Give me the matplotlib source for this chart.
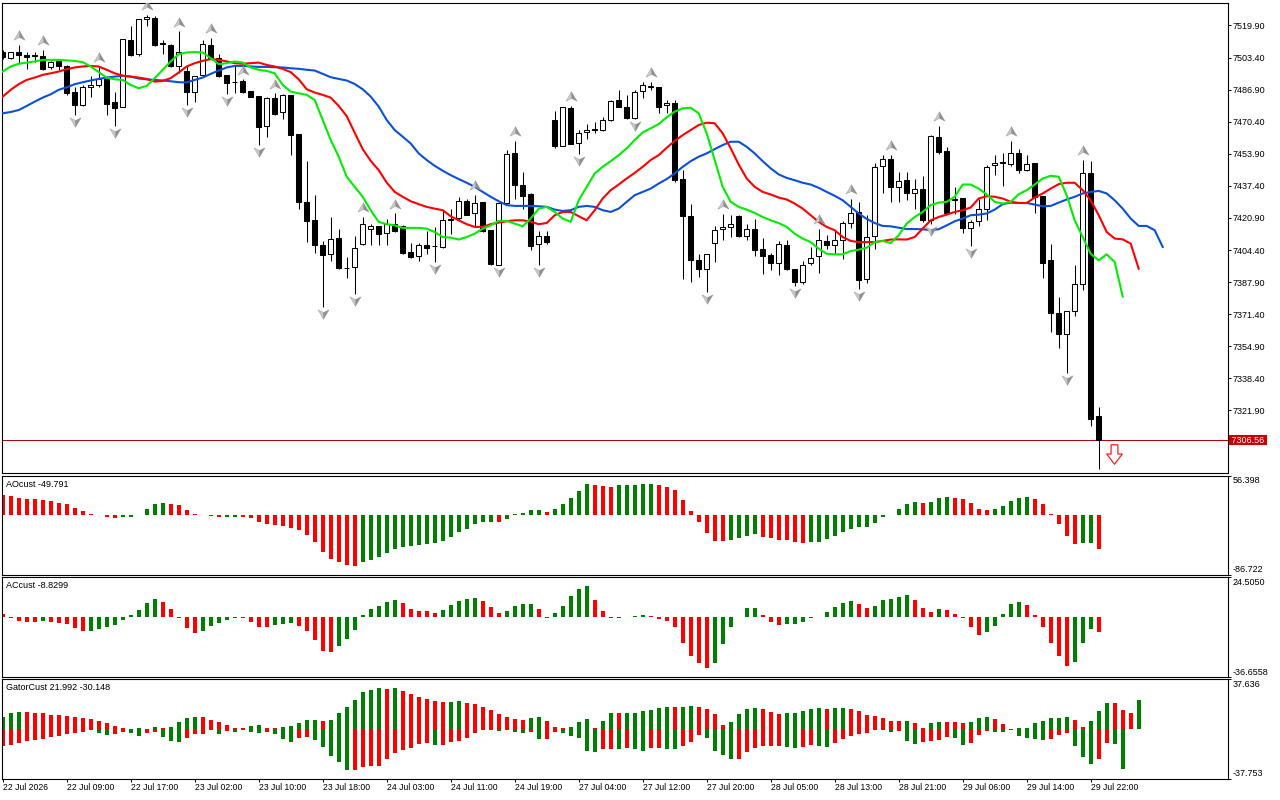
import numpy as np
import matplotlib
matplotlib.use("Agg")
import matplotlib.pyplot as plt
from matplotlib.path import Path
from matplotlib.transforms import offset_copy, blended_transform_factory

plt.rcParams['font.family'] = ['Liberation Sans', 'DejaVu Sans']

# ---- hourly candles, 22 Jul 01:00 .. 29 Jul 23:00 ----
opens = [7506.5, 7503.1, 7506.0, 7504.8, 7504.3, 7504.3, 7498.3, 7501.4, 7499.1, 7485.7,
         7479.0, 7488.1, 7489.3, 7492.4, 7480.4, 7478.1, 7512.5, 7505.1, 7523.2, 7523.7,
         7510.5, 7510.0, 7499.3, 7496.5, 7485.9, 7494.3, 7510.0, 7503.1, 7494.5, 7490.7,
         7491.4, 7486.2, 7483.6, 7468.4, 7482.4, 7475.2, 7484.0, 7464.1, 7429.3, 7420.1,
         7407.2, 7402.5, 7410.8, 7395.2, 7395.7, 7407.3, 7415.4, 7416.8, 7413.3, 7418.0,
         7416.8, 7403.4, 7401.3, 7407.2, 7406.5, 7406.0, 7419.7, 7420.9, 7429.8, 7423.2,
         7429.3, 7414.6, 7396.9, 7428.8, 7454.1, 7438.1, 7433.0, 7407.3, 7411.8, 7471.1,
         7458.0, 7477.3, 7459.2, 7464.9, 7466.1, 7466.3, 7471.1, 7481.6, 7478.1, 7472.2,
         7486.1, 7488.4, 7488.1, 7478.8, 7479.9, 7440.7, 7422.1, 7399.4, 7394.8, 7408.2,
         7415.4, 7416.3, 7422.1, 7411.8, 7415.4, 7405.1, 7402.0, 7397.9, 7407.2, 7394.4,
         7387.9, 7397.7, 7401.2, 7408.9, 7407.2, 7409.4, 7418.3, 7423.8, 7389.6, 7411.6,
         7447.6, 7451.0, 7436.9, 7440.3, 7433.5, 7436.0, 7420.0, 7462.7, 7455.3, 7430.0,
         7431.4, 7415.8, 7419.4, 7425.7, 7448.1, 7449.3, 7448.9, 7454.1, 7445.8, 7449.3,
         7432.1, 7399.1, 7372.1, 7361.3, 7373.0, 7387.0, 7443.8, 7319.2]
highs = [7507.4, 7506.5, 7510.0, 7506.2, 7506.2, 7507.4, 7501.7, 7502.2, 7499.6, 7488.5,
         7489.3, 7494.0, 7498.8, 7494.0, 7485.9, 7512.9, 7519.4, 7523.4, 7525.4, 7525.0,
         7512.5, 7510.3, 7516.8, 7498.8, 7494.0, 7512.5, 7513.4, 7505.1, 7494.5, 7499.6,
         7492.2, 7486.2, 7483.6, 7483.0, 7485.0, 7484.5, 7484.2, 7464.1, 7450.1, 7432.9,
         7409.1, 7421.3, 7415.4, 7400.8, 7411.5, 7421.4, 7417.6, 7416.8, 7420.6, 7423.2,
         7417.2, 7408.0, 7408.0, 7414.0, 7416.3, 7424.9, 7425.7, 7431.7, 7430.4, 7432.6,
         7429.3, 7414.9, 7429.2, 7455.8, 7460.4, 7444.5, 7433.5, 7414.0, 7414.0, 7475.9,
         7478.1, 7478.5, 7466.1, 7469.2, 7470.4, 7473.0, 7481.6, 7486.7, 7484.1, 7486.7,
         7491.0, 7491.0, 7488.1, 7481.6, 7481.6, 7445.8, 7428.3, 7402.5, 7402.6, 7416.8,
         7423.1, 7422.3, 7422.3, 7418.0, 7420.6, 7410.8, 7403.0, 7409.1, 7409.7, 7394.6,
         7398.7, 7405.9, 7415.4, 7412.0, 7414.9, 7419.4, 7430.9, 7429.3, 7422.6, 7449.3,
         7453.1, 7453.2, 7444.5, 7444.6, 7441.0, 7442.4, 7463.5, 7468.2, 7457.5, 7436.9,
         7431.4, 7419.7, 7430.9, 7448.1, 7453.1, 7454.1, 7460.4, 7456.5, 7453.2, 7449.3,
         7432.1, 7407.3, 7380.5, 7372.8, 7396.9, 7450.6, 7450.1, 7323.8]
lows = [7502.6, 7502.7, 7500.5, 7497.4, 7501.3, 7497.1, 7497.4, 7497.1, 7484.2, 7473.9,
        7478.5, 7483.0, 7488.5, 7473.9, 7468.2, 7477.8, 7504.3, 7504.3, 7519.7, 7509.1,
        7505.1, 7498.7, 7495.3, 7479.0, 7480.7, 7494.0, 7503.1, 7493.6, 7484.5, 7485.0,
        7485.4, 7483.0, 7458.4, 7462.3, 7473.9, 7471.8, 7453.2, 7425.4, 7408.5, 7403.0,
        7375.0, 7398.7, 7394.8, 7390.1, 7381.6, 7406.8, 7407.1, 7406.8, 7406.8, 7413.7,
        7402.6, 7400.5, 7398.7, 7402.5, 7398.2, 7405.6, 7412.8, 7420.1, 7422.3, 7416.3,
        7413.7, 7396.5, 7396.5, 7428.3, 7430.5, 7425.7, 7404.2, 7396.5, 7407.7, 7457.0,
        7457.9, 7458.7, 7453.6, 7461.3, 7464.4, 7465.6, 7470.8, 7477.8, 7471.8, 7471.8,
        7482.8, 7486.7, 7474.7, 7474.7, 7439.5, 7389.6, 7387.9, 7390.5, 7382.8, 7398.2,
        7409.4, 7411.1, 7411.1, 7409.4, 7401.2, 7392.2, 7394.3, 7391.7, 7393.9, 7385.7,
        7387.0, 7396.9, 7392.6, 7405.1, 7402.2, 7399.9, 7415.8, 7384.3, 7387.4, 7404.8,
        7433.8, 7429.3, 7429.3, 7430.0, 7425.7, 7418.9, 7417.6, 7453.7, 7423.1, 7423.1,
        7413.3, 7406.5, 7416.8, 7419.7, 7442.9, 7437.4, 7447.7, 7444.1, 7445.1, 7423.6,
        7390.0, 7362.1, 7354.1, 7341.2, 7370.7, 7384.0, 7314.0, 7292.0]
closes = [7503.6, 7506.2, 7504.6, 7503.6, 7504.2, 7497.6, 7501.2, 7499.1, 7485.4, 7478.8,
          7488.1, 7489.1, 7492.4, 7479.7, 7477.3, 7512.9, 7504.6, 7523.4, 7524.2, 7510.0,
          7510.4, 7498.8, 7506.5, 7485.9, 7493.8, 7510.3, 7503.4, 7494.1, 7490.2, 7490.8,
          7485.9, 7483.3, 7467.8, 7482.4, 7474.5, 7484.0, 7463.7, 7429.2, 7419.4, 7406.8,
          7401.7, 7410.3, 7395.3, 7395.0, 7405.6, 7418.0, 7416.8, 7412.8, 7418.0, 7414.2,
          7403.0, 7400.8, 7407.2, 7405.4, 7406.4, 7420.1, 7420.6, 7429.8, 7422.6, 7428.8,
          7414.2, 7397.4, 7428.8, 7453.6, 7437.6, 7432.3, 7406.5, 7411.8, 7408.5, 7458.0,
          7477.8, 7458.9, 7464.4, 7466.0, 7466.2, 7471.1, 7481.1, 7478.1, 7472.2, 7485.5,
          7489.1, 7488.5, 7478.1, 7479.9, 7440.3, 7421.9, 7399.4, 7394.8, 7402.5, 7414.9,
          7416.1, 7418.0, 7411.6, 7415.4, 7404.6, 7401.2, 7397.7, 7407.7, 7394.4, 7387.9,
          7396.9, 7400.5, 7409.4, 7407.2, 7409.7, 7418.3, 7423.6, 7389.1, 7411.1, 7446.9,
          7451.0, 7436.9, 7439.8, 7433.8, 7435.7, 7419.7, 7463.0, 7455.0, 7423.6, 7430.5,
          7415.8, 7419.0, 7425.7, 7446.9, 7449.4, 7449.2, 7454.1, 7445.8, 7448.9, 7431.7,
          7397.7, 7371.9, 7361.3, 7372.8, 7387.0, 7443.8, 7317.4, 7306.56]

# alligator lines (already shifted forward: jaw +8, teeth +5, lips +3)
jaw = [7474.7, 7475.4, 7476.4, 7478.5, 7480.7, 7482.8, 7484.5, 7486.8, 7488.1, 7489.7,
       7490.7, 7491.6, 7492.4, 7493.1, 7493.6, 7494.0, 7493.6, 7492.6, 7492.2, 7491.9,
       7491.6, 7491.2, 7490.7, 7490.6, 7491.9, 7493.1, 7495.0, 7496.7, 7498.3, 7499.1,
       7499.1, 7498.8, 7498.6, 7498.6, 7498.4, 7498.3, 7497.9, 7497.6, 7497.1, 7496.7,
       7495.0, 7493.3, 7492.4, 7491.6, 7489.8, 7487.1, 7483.3, 7478.2, 7471.3, 7466.1,
       7462.7, 7459.2, 7454.1, 7450.7, 7447.7, 7445.2, 7442.9, 7440.9, 7439.0, 7436.9,
       7434.3, 7431.8, 7429.5, 7427.5, 7427.1, 7427.1, 7427.1, 7426.9, 7426.6, 7425.2,
       7424.5, 7424.9, 7426.6, 7427.1, 7426.6, 7424.9, 7424.0, 7425.7, 7429.2, 7432.6,
       7434.3, 7436.0, 7438.6, 7440.9, 7443.8, 7447.2, 7450.1, 7452.4, 7454.1, 7456.3,
       7458.4, 7460.1, 7460.1, 7457.5, 7454.1, 7450.1, 7446.4, 7443.3, 7441.5, 7440.3,
       7439.0, 7438.1, 7436.4, 7434.3, 7432.3, 7430.0, 7426.6, 7423.2, 7420.4, 7418.3,
       7416.8, 7416.6, 7415.9, 7415.2, 7415.2, 7415.1, 7414.6, 7415.1, 7417.1, 7419.2,
       7420.6, 7422.3, 7422.6, 7423.2, 7425.2, 7428.0, 7428.8, 7428.6, 7428.6, 7427.8,
       7426.9, 7427.1, 7428.8, 7430.4, 7431.8, 7433.5, 7434.3, 7434.8, 7433.5, 7430.0,
       7425.7, 7420.6, 7416.8, 7416.8, 7414.6, 7406.0]
teeth = [7483.3, 7486.8, 7489.7, 7491.9, 7493.1, 7494.5, 7495.3, 7496.2, 7497.4, 7498.3,
         7498.8, 7499.1, 7498.8, 7497.1, 7495.3, 7494.1, 7493.6, 7493.1, 7492.4, 7491.0,
         7491.4, 7492.8, 7495.7, 7498.8, 7500.5, 7501.7, 7502.6, 7502.2, 7501.4, 7500.5,
         7500.2, 7500.5, 7500.8, 7499.6, 7498.8, 7497.6, 7495.9, 7492.2, 7487.1, 7485.4,
         7484.2, 7482.8, 7478.5, 7473.3, 7464.7, 7456.3, 7450.3, 7445.5, 7439.1, 7434.3,
         7431.8, 7429.5, 7428.0, 7426.6, 7425.7, 7424.9, 7421.8, 7419.7, 7417.7, 7416.3,
         7416.3, 7417.7, 7418.5, 7419.2, 7419.7, 7419.7, 7419.0, 7417.7, 7418.3, 7422.3,
         7424.0, 7424.0, 7421.8, 7419.7, 7424.9, 7430.9, 7435.2, 7438.1, 7441.2, 7444.1,
         7447.2, 7450.7, 7453.2, 7457.0, 7460.5, 7463.5, 7466.1, 7468.7, 7469.9, 7469.6,
         7464.4, 7456.7, 7448.4, 7441.2, 7436.9, 7434.3, 7433.0, 7431.4, 7430.4, 7428.3,
         7425.7, 7422.3, 7418.9, 7416.3, 7414.6, 7411.1, 7409.1, 7408.5, 7408.5, 7408.5,
         7409.1, 7409.8, 7409.9, 7409.8, 7411.1, 7415.4, 7419.7, 7421.4, 7422.6, 7424.0,
         7424.9, 7426.3, 7430.9, 7432.1, 7431.8, 7430.9, 7429.2, 7428.6, 7428.6, 7431.4,
         7433.5, 7436.0, 7438.3, 7439.0, 7439.0, 7435.2, 7430.0, 7422.3, 7413.7, 7410.3,
         7409.9, 7407.7, 7394.8]
lips = [7496.2, 7498.8, 7500.2, 7500.8, 7501.4, 7502.2, 7502.2, 7502.2, 7501.9, 7501.7,
        7501.0, 7498.8, 7495.9, 7493.1, 7492.2, 7491.9, 7489.3, 7487.6, 7488.8, 7492.8,
        7497.1, 7501.4, 7505.1, 7506.0, 7506.2, 7506.0, 7503.1, 7500.0, 7500.5, 7501.4,
        7500.8, 7498.3, 7497.1, 7496.5, 7495.3, 7489.3, 7485.9, 7485.0, 7484.2, 7481.6,
        7471.3, 7461.0, 7452.4, 7442.1, 7436.9, 7431.8, 7424.9, 7418.9, 7417.7, 7417.1,
        7415.8, 7415.8, 7415.8, 7415.4, 7413.7, 7411.1, 7410.8, 7409.8, 7411.1, 7412.8,
        7415.4, 7417.1, 7419.4, 7419.4, 7418.0, 7416.6, 7420.6, 7425.7, 7426.6, 7424.0,
        7420.6, 7418.9, 7430.0, 7436.9, 7443.8, 7447.2, 7450.1, 7453.2, 7456.7, 7461.0,
        7464.9, 7467.0, 7469.2, 7472.7, 7475.6, 7477.3, 7477.6, 7474.7, 7464.4, 7450.7,
        7436.9, 7429.2, 7426.6, 7425.2, 7423.5, 7421.4, 7419.7, 7418.3, 7416.3, 7412.8,
        7410.3, 7408.5, 7405.1, 7402.5, 7402.2, 7402.2, 7403.9, 7404.6, 7405.6, 7408.5,
        7409.1, 7408.0, 7412.0, 7418.0, 7421.4, 7424.0, 7427.5, 7428.8, 7429.2, 7431.8,
        7438.1, 7438.1, 7436.0, 7433.0, 7429.2, 7428.3, 7429.2, 7433.1, 7435.2, 7438.1,
        7441.2, 7442.6, 7442.1, 7432.6, 7419.7, 7411.1, 7402.5, 7399.1, 7402.2, 7398.2,
        7380.5]

# bar indices of fractal arrows
fractal_up = [2, 5, 12, 18, 22, 26, 30, 34, 45, 49, 59, 64, 71, 81, 90, 102, 106, 111, 117, 126, 135]
fractal_dn = [9, 14, 23, 28, 32, 40, 44, 54, 62, 67, 72, 79, 88, 99, 107, 116, 121, 133]

# oscillators
ao = [28.0, 26.5, 24.1, 22.7, 22.5, 21.2, 20.2, 17.4, 14.9, 9.6,
      4.8, 1.4, 0.3, -3.9, -4.8, -3.4, -3.0, -0.8, 8.2, 14.9,
      16.4, 16.0, 13.5, 6.3, 0.5, 0.2, -2.0, -3.9, -2.9, -2.8,
      -3.9, -4.8, -10.6, -14.0, -15.0, -16.9, -19.8, -22.2, -29.9, -39.5,
      -54.0, -63.6, -69.0, -72.8, -74.2, -68.4, -66.0, -61.2, -55.9, -49.6,
      -46.7, -45.3, -44.3, -42.9, -41.0, -38.0, -32.3, -24.6, -20.2, -14.0,
      -10.1, -10.0, -10.6, -6.3, 0.8, 2.9, 6.3, 6.4, 3.4, 8.2,
      14.9, 24.6, 34.2, 43.9, 42.4, 41.4, 40.0, 42.4, 42.5, 42.6,
      43.9, 44.0, 42.4, 40.0, 35.7, 21.2, 4.8, -10.6, -27.0, -38.0,
      -38.3, -36.6, -33.3, -30.4, -28.4, -31.8, -34.2, -36.6, -36.8, -39.5,
      -41.4, -39.5, -39.4, -35.2, -31.3, -25.1, -20.7, -17.8, -17.4, -12.0,
      -3.4, -1.0, 8.2, 14.9, 17.8, 17.6, 17.9, 24.6, 25.1, 23.6,
      22.2, 16.4, 7.7, 6.3, 7.7, 12.0, 19.3, 23.6, 25.1, 22.7,
      14.9, 1.0, -14.0, -31.3, -42.9, -41.4, -41.3, -49.791]
ac = [1.8, -0.4, -2.4, -2.8, -2.9, -2.4, -2.9, -3.5, -4.3, -6.5,
      -8.2, -8.1, -7.1, -5.7, -4.5, -1.6, 1.2, 4.3, 8.6, 11.0,
      9.2, 4.9, -0.3, -6.5, -9.6, -8.4, -5.3, -3.5, -1.6, -0.2,
      -0.4, -2.9, -5.9, -6.0, -4.5, -3.9, -3.5, -5.3, -8.4, -13.9,
      -20.6, -21.2, -17.5, -13.0, -7.7, 1.4, 5.1, 6.9, 9.4, 10.6,
      8.8, 5.1, 4.1, 4.0, 2.9, 4.5, 7.5, 10.2, 11.0, 11.8,
      10.0, 6.3, 2.7, 3.9, 6.9, 8.2, 8.3, 5.1, -0.2, 2.7,
      6.7, 13.0, 17.1, 19.2, 10.6, 4.1, -0.3, -0.2, 0.3, 0.9,
      1.6, 1.0, -0.8, -2.2, -5.9, -15.7, -23.7, -27.9, -31.0, -27.9,
      -16.3, -5.9, 0.4, 5.7, 5.8, 1.2, -2.7, -4.5, -3.9, -3.8,
      -2.7, -0.4, 0.2, 3.5, 6.3, 8.8, 10.0, 8.4, 5.7, 6.9,
      10.6, 11.2, 12.4, 13.7, 10.6, 5.7, 3.5, 5.1, 4.5, 2.2,
      -0.2, -5.7, -10.6, -8.8, -5.3, 2.0, 8.2, 9.4, 7.5, 1.4,
      -5.9, -15.5, -23.4, -29.6, -27.1, -15.5, -6.9, -8.8299]
gator_up = [8.9, 11.7, 12.9, 12.8, 12.4, 11.7, 10.9, 10.8, 9.6, 9.1,
            8.6, 7.6, 6.1, 4.8, 2.3, 1.0, 0.1, 0.8, 0.0, 1.5,
            0.8, 1.6, 5.3, 8.4, 9.1, 9.0, 6.8, 5.3, 3.3, 0.8,
            0.7, 2.3, 3.0, 0.8, 0.7, 1.5, 2.3, 4.6, 6.8, 6.9,
            6.1, 6.9, 11.7, 17.0, 22.0, 28.1, 29.6, 31.2, 30.4, 31.2,
            28.9, 26.6, 24.3, 22.8, 21.3, 20.5, 20.6, 21.3, 19.8, 19.0,
            16.7, 14.4, 11.4, 9.1, 7.6, 6.8, 8.4, 9.1, 6.1, 1.5,
            0.8, 1.5, 5.3, 7.6, 0.8, 6.1, 12.2, 12.1, 12.2, 12.3,
            13.7, 14.4, 16.0, 16.7, 16.6, 16.8, 17.5, 16.7, 15.2, 11.4,
            3.0, 5.3, 11.4, 15.2, 16.0, 15.2, 12.9, 11.4, 12.2, 12.3,
            13.7, 15.2, 16.0, 15.2, 16.0, 16.1, 15.2, 13.7, 10.6, 9.9,
            8.4, 6.1, 6.0, 6.1, 4.6, 0.8, 4.6, 5.3, 5.2, 5.1,
            4.6, 5.3, 8.4, 9.1, 7.6, 3.8, 0.0, 0.7, 0.8, 4.6,
            6.1, 8.4, 8.5, 9.1, 6.8, 1.5, 6.1, 13.7, 19.8, 19.7,
            14.4, 12.2, 21.992]
gator_dn = [12.7, 12.2, 10.4, 9.1, 8.4, 7.6, 5.8, 5.1, 4.1, 3.3,
            2.5, 0.8, 2.8, 4.3, 3.5, 2.3, 2.8, 5.1, 2.8, 2.3,
            5.8, 9.1, 9.6, 6.6, 3.8, 3.5, 0.8, 3.5, 1.5, 2.0,
            0.8, 2.3, 2.8, 2.7, 3.5, 7.3, 9.6, 6.8, 5.8, 8.4,
            13.4, 20.3, 24.8, 31.2, 31.1, 28.6, 28.5, 27.9, 22.5, 18.0,
            16.0, 14.2, 11.4, 10.6, 12.2, 12.1, 9.9, 9.1, 6.8, 3.0,
            0.8, 0.9, 1.5, 0.8, 2.3, 3.0, 2.3, 7.6, 7.5, 2.3,
            3.0, 5.3, 6.8, 16.7, 17.5, 15.2, 15.1, 15.2, 14.4, 15.2,
            16.7, 14.4, 14.3, 15.2, 15.3, 12.9, 9.9, 4.6, 6.8, 16.7,
            19.8, 22.8, 22.7, 17.5, 14.4, 13.2, 12.9, 12.6, 13.7, 14.4,
            13.7, 12.2, 12.9, 13.7, 10.6, 7.6, 5.3, 3.8, 3.0, 0.8,
            0.7, 2.3, 1.5, 9.1, 11.4, 9.9, 9.1, 8.4, 6.1, 6.8,
            12.2, 10.6, 4.6, 1.5, 2.3, 2.4, 0.7, 5.3, 6.8, 7.6,
            8.4, 7.6, 4.6, 3.0, 12.9, 21.3, 26.6, 22.8, 10.6, 11.4,
            30.148]

price_ticks = [7519.90, 7503.40, 7486.90, 7470.40, 7453.90, 7437.40, 7420.90,
               7404.40, 7387.90, 7371.40, 7354.90, 7338.40, 7321.90]
price_range = (7289.9, 7531.6)
ao_range = (-86.722, 56.398)
ac_range = (-36.6558, 24.5050)
gator_range = (-37.753, 37.636)
time_labels = ["22 Jul 2026", "22 Jul 09:00", "22 Jul 17:00", "23 Jul 02:00", "23 Jul 10:00",
               "23 Jul 18:00", "24 Jul 03:00", "24 Jul 11:00", "24 Jul 19:00", "27 Jul 04:00",
               "27 Jul 12:00", "27 Jul 20:00", "28 Jul 05:00", "28 Jul 13:00", "28 Jul 21:00",
               "29 Jul 06:00", "29 Jul 14:00", "29 Jul 22:00"]

GREEN, RED = '#008000', '#ff0000'
FS = 6.5

W, H = 1280, 800
LEFT, RIGHT = 1.7, 1227.7
fig = plt.figure(figsize=(12.8, 8), dpi=100)
fig.patch.set_facecolor('white')


def panel(top, bottom):
    ax = fig.add_axes([LEFT / W, 1 - bottom / H, (RIGHT - LEFT) / W, (bottom - top) / H])
    ax.set_xlim(-0.125, 153.125)
    ax.set_xticks([])
    ax.yaxis.tick_right()
    ax.tick_params(axis='y', direction='out', length=1.8, width=0.7, pad=1.8, labelsize=FS)
    for s in ax.spines.values():
        s.set_linewidth(0.8)
    return ax


ax = panel(2.7, 472.7)
ax_ao = panel(475.7, 574.7)
ax_ac = panel(577.3, 677.3)
ax_g = panel(679.3, 778.7)

# ---- candles ----
o, h, l, c = (np.array(v) for v in (opens, highs, lows, closes))
idx = np.arange(len(c))
bull = c >= o
ax.vlines(idx, l, h, color='black', lw=0.75, zorder=2)
ax.bar(idx, np.maximum(np.abs(c - o), 0.3), bottom=np.minimum(o, c), width=0.56,
       color=np.where(bull, 'white', 'black'), edgecolor='black', lw=0.75, zorder=3)

# ---- alligator ----
ax.plot(np.arange(len(jaw)), jaw, color='#0a50dc', lw=1.5, zorder=4)
ax.plot(np.arange(len(teeth)), teeth, color='#ff0000', lw=1.5, zorder=4)
ax.plot(np.arange(len(lips)), lips, color='#00ee00', lw=1.5, zorder=4)

# ---- fractals (two-tone arrowheads) ----
def half(pts):
    return Path(pts + [pts[0]], [Path.MOVETO] + [Path.LINETO] * (len(pts) - 1) + [Path.CLOSEPOLY])


up_left = half([(0, 0.85), (0, -0.35), (-1, -0.85)])
up_right = half([(0, 0.85), (1, -0.85), (0, -0.35)])
dn_left = half([(0, -0.85), (-1, 0.85), (0, 0.35)])
dn_right = half([(0, -0.85), (0, 0.35), (1, 0.85)])
tr_up = offset_copy(ax.transData, fig=fig, y=7.0, units='points')
tr_dn = offset_copy(ax.transData, fig=fig, y=-5.0, units='points')
for mk, col in ((up_left, '#c9c9c9'), (up_right, '#8e8e8e')):
    ax.plot(fractal_up, h[fractal_up], ls='none', marker=mk, ms=8, mfc=col, mec='#9a9a9a',
            mew=0.3, transform=tr_up, zorder=5)
for mk, col in ((dn_left, '#c9c9c9'), (dn_right, '#8e8e8e')):
    ax.plot(fractal_dn, l[fractal_dn], ls='none', marker=mk, ms=8, mfc=col, mec='#9a9a9a',
            mew=0.3, transform=tr_dn, zorder=5)

# ---- current price line, label and sell arrow ----
last = closes[-1]
ax.axhline(last, color='#b00000', lw=0.7, zorder=1)
ax.annotate(f" {last:.2f} ", xy=(1, last), xycoords=blended_transform_factory(ax.transAxes, ax.transData),
            xytext=(1.0, 0), textcoords='offset points', ha='left', va='center', fontsize=FS,
            color='white', annotation_clip=False,
            bbox=dict(boxstyle='square,pad=0.06', fc='#cc0000', ec='none'))
sell_mark = Path([(-0.35, 1), (0.35, 1), (0.35, 0.05), (0.8, 0.05), (0, -1), (-0.8, 0.05),
                  (-0.35, 0.05), (-0.35, 1)],
                 [Path.MOVETO] + [Path.LINETO] * 6 + [Path.CLOSEPOLY])
ax.plot([len(closes) + 0.85], [last - 7], marker=sell_mark, ms=14, mfc='white', mec='#ff2020',
        mew=0.9, ls='none', zorder=5)

ax.set_ylim(*price_range)
ax.set_yticks(price_ticks)
ax.set_yticklabels([f"{v:.2f}" for v in price_ticks])


# ---- histograms ----
def bar_colors(vals, first_up):
    v = np.asarray(vals)
    rising = np.empty(len(v), bool)
    rising[0] = first_up
    rising[1:] = v[1:] > v[:-1]
    return np.where(rising, GREEN, RED)


BW = 0.46
ax_ao.bar(np.arange(len(ao)), ao, width=BW, color=bar_colors(ao, False), lw=0)
ax_ac.bar(np.arange(len(ac)), ac, width=BW, color=bar_colors(ac, False), lw=0)
ax_g.bar(np.arange(len(gator_up)), gator_up, width=BW, color=bar_colors(gator_up, True), lw=0)
ax_g.bar(np.arange(len(gator_dn)), -np.array(gator_dn), width=BW,
         color=bar_colors(gator_dn, False), lw=0)

titles = [(ax_ao, f"AOcust {ao[-1]:.3f}", ao_range, "{:.3f}"),
          (ax_ac, f"ACcust {ac[-1]:.4f}", ac_range, "{:.4f}"),
          (ax_g, f"GatorCust {gator_up[-1]:.3f} {-gator_dn[-1]:.3f}", gator_range, "{:.3f}")]
for a, title, (lo, hi), fmt in titles:
    a.set_ylim(lo, hi)
    a.set_yticks([lo, hi])
    a.set_yticklabels([])
    a.annotate(title, xy=(0, 1), xycoords='axes fraction', xytext=(3.2, -6),
               textcoords='offset points', ha='left', va='center', fontsize=FS)
    a.annotate(fmt.format(hi), xy=(1, 1), xycoords='axes fraction', xytext=(3.4, -3.6),
               textcoords='offset points', ha='left', va='center', fontsize=FS, annotation_clip=False)
    a.annotate(fmt.format(lo), xy=(1, 0), xycoords='axes fraction', xytext=(3.4, 3.4),
               textcoords='offset points', ha='left', va='center', fontsize=FS, annotation_clip=False)

# ---- time axis ----
tick_pos = np.arange(0, len(closes), 8)
ax_g.set_xticks(tick_pos)
ax_g.set_xticklabels([])
ax_g.tick_params(axis='x', direction='out', length=2.2, width=0.7)
for k, lab in zip(tick_pos, time_labels):
    ax_g.annotate(lab, xy=(k, 0), xycoords=('data', 'axes fraction'), xytext=(0.4, -6.3),
                  textcoords='offset points', ha='left', va='center', fontsize=6.2,
                  annotation_clip=False)

fig.savefig("out.png", dpi=100)
